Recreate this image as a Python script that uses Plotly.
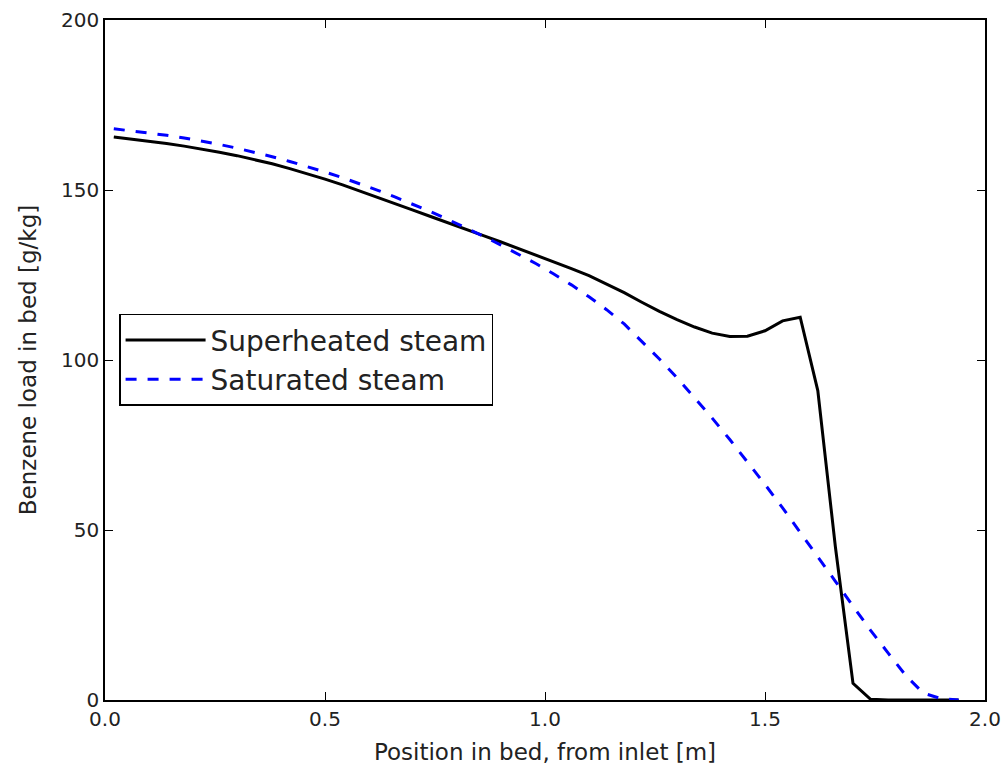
import plotly.graph_objects as go

# Position in bed from inlet [m] (cell centres)
position_m = [round(0.02 + 0.04 * i, 2) for i in range(49)]

superheated = [
    165.6, 165.0, 164.4, 163.7, 162.9, 162.1, 161.1, 160.1, 159.0, 157.7,
    156.3, 154.8, 153.2, 151.5, 149.7, 147.8, 145.9, 144.1, 142.2, 140.4,
    138.5, 136.6, 134.7, 132.8, 130.9, 129.0, 126.9, 124.8, 122.4, 119.8,
    117.0, 114.3, 111.9, 109.7, 107.9, 106.9, 107.0, 108.6, 111.5, 112.6,
    91.0, 45.0, 4.9, 0.2, 0.0, 0.0, 0.0, 0.0, 0.0,
]

saturated = [
    168.0, 167.4, 166.8, 166.1, 165.3, 164.4, 163.4, 162.3, 161.1, 159.8,
    158.4, 156.9, 155.3, 153.6, 151.8, 149.9, 147.9, 145.8, 143.6, 141.3,
    138.9, 136.4, 133.8, 131.1, 128.3, 125.3, 122.1, 118.6, 114.8, 110.6,
    105.5, 100.3, 94.8, 89.0, 82.9, 76.6, 70.1, 63.4, 56.5, 49.4,
    42.2, 34.9, 27.6, 20.5, 13.8, 7.2, 2.0, 0.4, 0.0,
]

x_ticks = [0.0, 0.5, 1.0, 1.5, 2.0]
y_ticks = [0, 50, 100, 150, 200]

fig = go.Figure()
fig.add_trace(go.Scatter(
    x=position_m, y=superheated, mode="lines", name="Superheated steam",
    line=dict(color="#000000", width=3),
))
fig.add_trace(go.Scatter(
    x=position_m, y=saturated, mode="lines", name="Saturated steam",
    line=dict(color="#0000ff", width=3, dash="11px,11px"),
))

font_family = "DejaVu Sans"
fig.update_layout(
    width=1002, height=771,
    margin=dict(l=105, r=17, t=20, b=71, autoexpand=False),
    paper_bgcolor="white", plot_bgcolor="white",
    font=dict(family=font_family, color="#000000", size=20),
    showlegend=True,
    legend=dict(
        x=0.016, y=0.568, xanchor="left", yanchor="top",
        bgcolor="white", bordercolor="#000000", borderwidth=1.5,
        font=dict(family=font_family, size=28, color="#222222"),
        itemwidth=80, tracegroupgap=0,
    ),
    xaxis=dict(
        range=[0, 2], tickvals=x_ticks, tickformat=".1f", automargin=False,
        ticks="inside", ticklen=8, tickwidth=1, tickcolor="#000000",
        showline=True, linecolor="#000000", linewidth=1.5, mirror="ticks",
        showgrid=False, zeroline=False,
        tickfont=dict(size=20, color="#222222"),
        title=dict(text="Position in bed, from inlet [m]",
                   font=dict(size=23, color="#222222"), standoff=14),
    ),
    yaxis=dict(
        range=[0, 200], tickvals=y_ticks, automargin=False,
        ticks="inside", ticklen=8, tickwidth=1, tickcolor="#000000",
        showline=True, linecolor="#000000", linewidth=1.5, mirror="ticks",
        showgrid=False, zeroline=False,
        tickfont=dict(size=20, color="#222222"),
        title=dict(text="Benzene load in bed [g/kg]",
                   font=dict(size=23, color="#222222"), standoff=18),
    ),
)

fig.write_html("out.html")
